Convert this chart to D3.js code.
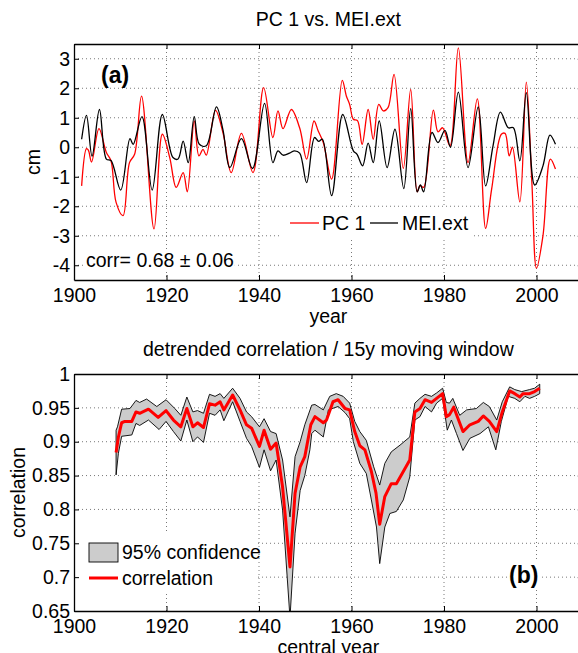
<!DOCTYPE html>
<html><head><meta charset="utf-8">
<script src="https://cdn.jsdelivr.net/npm/d3@7"></script>
<style>
body{margin:0;background:#fff;}
svg text{font-family:"Liberation Sans",Arial,Helvetica,sans-serif;fill:#000;}
</style></head><body>
<svg id="c" width="578" height="653"></svg>
<script>
// ---- Panel (a) data ----
const meiYears = [1901.65,1902.7,1903.9,1905.5,1907.0,1908.0,1910.1,1912.1,1912.8,1914.7,1916.9,1919.1,1921.4,1922.5,1923.6,1924.7,1926.0,1927.1,1928.6,1930.8,1932.2,1933.7,1936.2,1938.6,1941.2,1943.0,1944.1,1945.2,1946.6,1947.7,1948.8,1950.3,1952.0,1952.9,1953.7,1955.7,1958.1,1960.4,1961.2,1962.4,1963.6,1964.7,1966.0,1967.7,1969.4,1971.3,1972.8,1974.2,1974.9,1975.6,1977.4,1978.7,1980.2,1981.4,1983.1,1985.2,1987.4,1989.0,1990.6,1992.2,1993.9,1995.0,1996.4,1997.8,1999.6,2001.4,2002.9,2004.1];
const meiVals  = [0.27,1.08,-0.3,1.28,-0.4,-0.45,-1.45,0.29,0.1,1.04,-1.45,1.11,-0.35,-0.4,0.21,-0.52,1.04,0.1,0.05,1.37,0.6,-0.69,0.29,-0.72,1.49,-0.52,-0.12,-0.27,-0.2,-0.12,-0.2,-1.2,0.33,0.2,0.27,-1.64,1.11,-0.12,-0.24,-0.63,0.14,-0.52,0.89,-0.69,0.61,-1.4,1.31,-1.51,-1.28,-1.51,0.5,0.16,0.57,0.0,1.87,-0.69,1.37,-1.31,0.05,1.19,0.66,0.66,-0.46,1.85,-1.28,-0.63,0.41,0.1];
const pcYears  = [1901.65,1902.7,1903.1,1903.8,1905.4,1907.0,1908.0,1909.1,1910.6,1912.0,1913.1,1914.6,1917.3,1919.1,1920.7,1922.1,1923.6,1924.5,1926.0,1927.0,1927.9,1928.6,1930.6,1932.2,1934.0,1936.2,1938.7,1941.0,1943.0,1944.1,1945.2,1947.0,1948.8,1950.3,1951.9,1952.8,1953.9,1955.7,1958.0,1958.9,1959.6,1960.4,1961.3,1962.3,1963.6,1964.7,1965.9,1966.9,1967.9,1969.2,1971.2,1972.8,1974.2,1974.8,1975.6,1977.7,1978.7,1979.7,1981.3,1983.1,1985.2,1987.2,1989.0,1990.3,1992.4,1993.2,1994.1,1994.8,1996.4,1997.8,1999.0,2000.0,2001.4,2003.0,2004.1];
const pcVals   = [-1.31,-0.05,-0.1,-0.5,0.63,-0.18,-0.46,-1.87,-2.32,-0.52,-0.24,1.73,-2.77,0.44,-0.35,-1.36,-0.86,-1.51,0.89,-0.29,-0.07,-0.27,1.25,0.5,-0.86,0.47,-0.86,2.02,0.33,1.23,0.63,1.28,0.65,-0.4,0.89,0.55,0.16,-1.08,2.27,1.73,1.45,0.95,0.9,0.1,1.28,0.27,1.45,1.23,1.34,2.47,-0.72,1.96,-1.51,-1.3,-1.36,1.26,0.52,0.66,0.05,3.37,-0.52,1.64,-2.75,-1.42,0.44,0.47,-0.29,0.0,-1.85,2.21,-1.2,-4.1,-3.0,-0.4,-0.74];
const xTicks = [1900,1920,1940,1960,1980,2000];
const yTicksA = [-4,-3,-2,-1,0,1,2,3];
const yTickLabelsA = ["-4","-3","-2","-1","0","1","2","3"];

// ---- Panel (b) data ----
const corrYears = [1909.1,1909.6,1910.3,1911.0,1912.5,1913.4,1914.2,1916.1,1918.2,1919.9,1921.5,1923.1,1924.4,1925.7,1926.7,1928.0,1929.3,1930.5,1931.6,1932.4,1934.3,1935.9,1937.3,1938.4,1940.1,1941.1,1942.5,1943.7,1945.1,1946.7,1947.8,1948.9,1949.9,1951.2,1952.1,1953.9,1954.6,1956.0,1957.1,1958.6,1959.6,1960.7,1961.8,1962.9,1964.3,1965.3,1966.1,1967.2,1968.6,1969.7,1971.2,1972.6,1973.7,1974.8,1975.9,1977.3,1978.4,1979.7,1980.5,1981.2,1982.1,1984.1,1985.6,1987.4,1988.5,1989.8,1991.4,1992.6,1994.2,1995.3,1996.4,1997.1,1998.5,1999.6,2000.7];
const corrVals  = [0.884,0.907,0.928,0.93,0.93,0.944,0.942,0.948,0.936,0.946,0.932,0.922,0.949,0.922,0.928,0.921,0.956,0.954,0.959,0.947,0.969,0.947,0.925,0.92,0.893,0.917,0.889,0.898,0.833,0.715,0.824,0.863,0.878,0.925,0.937,0.928,0.932,0.959,0.962,0.949,0.947,0.915,0.894,0.888,0.856,0.824,0.778,0.819,0.838,0.838,0.856,0.873,0.944,0.949,0.962,0.958,0.964,0.971,0.937,0.94,0.951,0.915,0.925,0.93,0.938,0.93,0.915,0.944,0.975,0.971,0.966,0.971,0.971,0.974,0.979];
const upYears = [1909.1,1909.4,1910.3,1912.1,1913.4,1914.2,1915.7,1917.9,1919.9,1921.8,1923.1,1924.4,1925.7,1926.7,1928.0,1929.3,1930.5,1931.6,1932.4,1934.3,1935.9,1937.3,1938.4,1940.1,1941.1,1942.5,1943.7,1945.1,1946.7,1947.8,1948.9,1949.9,1951.4,1952.1,1953.9,1955.3,1956.7,1958.2,1959.6,1960.7,1961.8,1963.2,1964.8,1966.1,1967.2,1968.6,1970.5,1972.6,1973.7,1974.8,1975.9,1977.3,1978.4,1979.7,1980.5,1981.2,1981.9,1983.4,1984.9,1987.0,1988.5,1989.8,1991.4,1992.6,1994.2,1995.3,1996.8,1998.5,1999.6,2000.7];
const upVals  = [0.917,0.922,0.948,0.949,0.961,0.958,0.963,0.952,0.962,0.949,0.939,0.966,0.944,0.946,0.942,0.97,0.967,0.971,0.964,0.979,0.964,0.944,0.937,0.922,0.934,0.915,0.912,0.873,0.789,0.878,0.9,0.925,0.954,0.955,0.947,0.967,0.971,0.967,0.957,0.93,0.915,0.902,0.863,0.836,0.868,0.885,0.895,0.907,0.957,0.964,0.97,0.967,0.972,0.979,0.958,0.957,0.964,0.939,0.947,0.949,0.958,0.952,0.932,0.959,0.981,0.977,0.974,0.977,0.979,0.985];
const loYears = [1909.1,1909.6,1910.3,1912.5,1913.4,1914.2,1916.1,1918.4,1919.9,1921.5,1923.1,1924.4,1925.7,1926.7,1928.0,1929.3,1930.5,1931.6,1932.4,1934.3,1935.9,1937.3,1938.4,1940.1,1941.1,1942.5,1943.7,1945.1,1946.7,1947.8,1948.9,1949.9,1951.0,1951.4,1952.1,1953.9,1955.0,1957.1,1958.6,1959.6,1960.4,1961.8,1963.2,1964.3,1965.4,1966.1,1967.2,1968.3,1969.7,1971.2,1972.6,1973.7,1974.8,1975.9,1977.3,1978.4,1979.7,1980.7,1981.6,1982.7,1984.1,1985.6,1987.8,1989.6,1991.2,1992.4,1993.9,1995.3,1996.4,1997.5,1998.5,1999.6,2000.7];
const loVals  = [0.851,0.883,0.908,0.91,0.927,0.924,0.932,0.918,0.93,0.915,0.901,0.932,0.9,0.907,0.899,0.942,0.939,0.947,0.931,0.959,0.93,0.905,0.893,0.862,0.888,0.857,0.873,0.799,0.64,0.765,0.828,0.85,0.888,0.912,0.917,0.907,0.947,0.952,0.943,0.934,0.9,0.868,0.853,0.814,0.774,0.72,0.774,0.794,0.797,0.814,0.848,0.932,0.937,0.952,0.944,0.957,0.964,0.917,0.932,0.912,0.887,0.905,0.912,0.922,0.888,0.93,0.967,0.964,0.959,0.967,0.964,0.967,0.971];
const yTicksB = [0.65,0.7,0.75,0.8,0.85,0.9,0.95,1];
const yTickLabelsB = ["0.65","0.7","0.75","0.8","0.85","0.9","0.95","1"];

const svg = d3.select("#c");
const FONT = 19.5;
const L = 74, R = 582.75;

function panel(top, bottom, yDomain, yTicks, title, xlabel, ylabel, ylabelX, clipId){
  const x = d3.scaleLinear().domain([1900,2010]).range([L,R]);
  const y = d3.scaleLinear().domain(yDomain).range([bottom,top]);
  svg.append("clipPath").attr("id",clipId).append("rect")
    .attr("x",L).attr("y",top).attr("width",R-L).attr("height",bottom-top);
  const g = svg.append("g");
  g.selectAll(".gx").data(xTicks.slice(1)).enter().append("line")
    .attr("x1",d=>x(d)).attr("x2",d=>x(d)).attr("y1",top).attr("y2",bottom)
    .attr("stroke","#555").attr("stroke-width",0.8).attr("stroke-dasharray","1,3");
  g.selectAll(".gy").data(yTicks.filter(v=>v!==yDomain[0] && v!==yDomain[1])).enter().append("line")
    .attr("x1",L).attr("x2",R).attr("y1",d=>y(d)).attr("y2",d=>y(d))
    .attr("stroke","#555").attr("stroke-width",0.8).attr("stroke-dasharray","1,3");
  svg.append("text").attr("x",(L+R)/2).attr("y",top-18).attr("text-anchor","middle")
    .style("font-size",FONT+"px").text(title);
  svg.append("text").attr("x",(L+R)/2).attr("y",bottom+43).attr("text-anchor","middle")
    .style("font-size",FONT+"px").text(xlabel);
  svg.append("text").attr("transform",`translate(${ylabelX},${(top+bottom)/2}) rotate(-90)`)
    .attr("text-anchor","middle").style("font-size",FONT+"px").text(ylabel);
  return {x,y,g};
}

function frame(P, top, bottom, yTicks, yLabels){
  const {x,y} = P;
  const ax = svg.append("g");
  const bx = d3.axisBottom(x).tickValues(xTicks).tickFormat(d3.format("d")).tickSizeInner(-5).tickSizeOuter(0).tickPadding(8);
  ax.append("g").attr("transform",`translate(0,${bottom})`).call(bx);
  const tx = d3.axisTop(x).tickValues(xTicks).tickFormat("").tickSizeInner(-5).tickSizeOuter(0);
  ax.append("g").attr("transform",`translate(0,${top})`).call(tx);
  const ly = d3.axisLeft(y).tickValues(yTicks).tickFormat((d,i)=>yLabels[i]).tickSizeInner(-5).tickSizeOuter(0).tickPadding(4);
  ax.append("g").attr("transform",`translate(${L},0)`).call(ly);
  const ry = d3.axisRight(y).tickValues(yTicks).tickFormat("").tickSizeInner(-5).tickSizeOuter(0);
  ax.append("g").attr("transform",`translate(${R},0)`).call(ry);
  ax.selectAll("path.domain").attr("stroke","#000").attr("stroke-width",1.3);
  ax.selectAll(".tick line").attr("stroke","#000");
  ax.selectAll(".tick text").style("font-size",FONT+"px").attr("fill","#000")
    .style("font-family",'"Liberation Sans",Arial,Helvetica,sans-serif');
}

// ---------- Panel (a) ----------
const A = panel(44, 280, [-4.5,3.5], yTicksA, "PC 1 vs. MEI.ext", "year", "cm", 40, "clipA");
const lineA = d3.line().x(d=>A.x(d[0])).y(d=>A.y(d[1])).curve(d3.curveCatmullRom.alpha(0.5));
const meiPts = meiYears.map((yr,i)=>[yr,meiVals[i]]);
const pcPts = pcYears.map((yr,i)=>[yr,pcVals[i]]);
const ga = svg.append("g").attr("clip-path","url(#clipA)");
ga.append("path").attr("d",lineA(pcPts)).attr("fill","none").attr("stroke","#ff0000").attr("stroke-width",1.3);
ga.append("path").attr("d",lineA(meiPts)).attr("fill","none").attr("stroke","#000").attr("stroke-width",1.3);
// legend (a)
svg.append("rect").attr("x",282).attr("y",208).attr("width",191).attr("height",30).attr("fill","#fff");
svg.append("line").attr("x1",290).attr("x2",319).attr("y1",223).attr("y2",223).attr("stroke","#ff0000").attr("stroke-width",1.3);
svg.append("text").attr("x",322).attr("y",230).style("font-size",FONT+"px").text("PC 1");
svg.append("line").attr("x1",370).attr("x2",398).attr("y1",223).attr("y2",223).attr("stroke","#000").attr("stroke-width",1.3);
svg.append("text").attr("x",402).attr("y",230).style("font-size",FONT+"px").text("MEI.ext");
// annotations
const ca = svg.append("text").attr("x",86).attr("y",267).style("font-size",FONT+"px").text("corr= 0.68 \u00b1 0.06");
const bb = ca.node().getBBox();
svg.insert("rect", () => ca.node()).attr("x",bb.x-1).attr("y",bb.y).attr("width",bb.width+2).attr("height",bb.height).attr("fill","#fff");
svg.append("text").attr("x",101).attr("y",83).style("font-size","23px").style("font-weight","bold").text("(a)");
frame(A, 44, 280, yTicksA, yTickLabelsA);

// ---------- Panel (b) ----------
const B = panel(374, 611, [0.65,1], yTicksB, "detrended correlation / 15y moving window", "central year", "correlation", 25, "clipB");
const lineB = d3.line().x(d=>B.x(d[0])).y(d=>B.y(d[1]));
const upPts = upYears.map((yr,i)=>[yr,upVals[i]]);
const loPts = loYears.map((yr,i)=>[yr,loVals[i]]);
const corrPts = corrYears.map((yr,i)=>[yr,corrVals[i]]);
const gb = svg.append("g").attr("clip-path","url(#clipB)");
gb.append("path").attr("d",lineB(upPts.concat(loPts.slice().reverse()))+"Z")
  .attr("fill","#cccccc").attr("stroke","#000").attr("stroke-width",0.9);
gb.append("path").attr("d",lineB(corrPts)).attr("fill","none").attr("stroke","#ff0000").attr("stroke-width",3).attr("stroke-linejoin","round");
// legend (b)
svg.append("rect").attr("x",75).attr("y",534).attr("width",183).attr("height",58).attr("fill","#fff");
svg.append("rect").attr("x",89).attr("y",543).attr("width",29).attr("height",19).attr("fill","#cccccc").attr("stroke","#000").attr("stroke-width",0.9);
svg.append("text").attr("x",122).attr("y",559).style("font-size",FONT+"px").text("95% confidence");
svg.append("line").attr("x1",89).attr("x2",118).attr("y1",578).attr("y2",578).attr("stroke","#ff0000").attr("stroke-width",3);
svg.append("text").attr("x",122).attr("y",585).style("font-size",FONT+"px").text("correlation");
const cb = svg.append("text").attr("x",509).attr("y",583).style("font-size","23px").style("font-weight","bold").text("(b)");
const bb2 = cb.node().getBBox();
svg.insert("rect", () => cb.node()).attr("x",bb2.x-2).attr("y",bb2.y).attr("width",bb2.width+4).attr("height",bb2.height).attr("fill","#fff");
frame(B, 374, 611, yTicksB, yTickLabelsB);
</script>
</body></html>
